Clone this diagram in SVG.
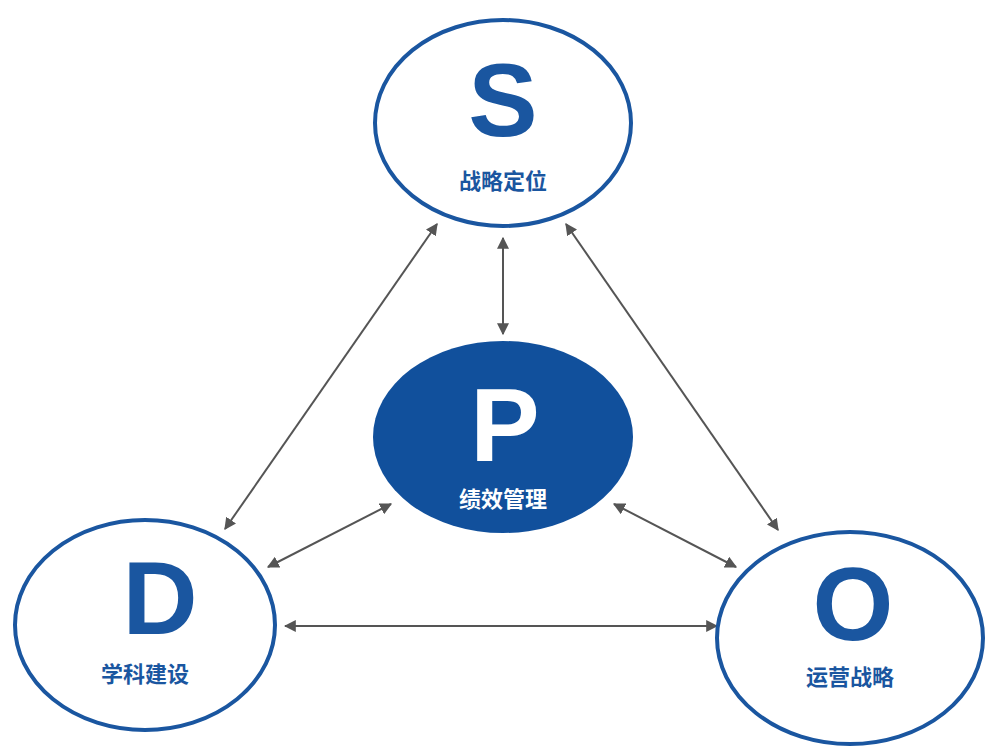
<svg xmlns="http://www.w3.org/2000/svg" width="999" height="753" viewBox="0 0 999 753">
<defs>
<marker id="ah" viewBox="0 0 10 10" refX="9" refY="5" markerWidth="6" markerHeight="6" orient="auto-start-reverse"><path d="M0,0 L10,5 L0,10 z" fill="#555"/></marker>
<style>
.ring{fill:#fff;stroke:#1a56a0;stroke-width:4}
.big{font-family:"Liberation Sans",sans-serif;font-weight:bold;font-size:104px;fill:#1a56a0;text-anchor:middle}
.lab{font-family:"Noto Sans CJK SC",sans-serif;font-weight:bold;font-size:22px;fill:#1a56a0;text-anchor:middle}
.w{fill:#fff}
.c{stroke:#555;stroke-width:2;fill:none;marker-start:url(#ah);marker-end:url(#ah)}
</style>
</defs>
<rect width="999" height="753" fill="#fff"/>
<g id="connectors">
<line class="c" x1="503" y1="238" x2="503" y2="334"/>
<line class="c" x1="437" y1="224" x2="225" y2="529"/>
<line class="c" x1="566" y1="224" x2="778" y2="530"/>
<line class="c" x1="391" y1="504" x2="268" y2="567"/>
<line class="c" x1="614" y1="504" x2="736" y2="567"/>
<line class="c" x1="285" y1="626" x2="717" y2="626"/>
</g>
<g id="S"><ellipse class="ring" cx="503" cy="123" rx="128" ry="103"/><text class="big" x="503" y="136">S</text><text class="lab" x="503" y="189">战略定位</text></g>
<g id="P"><ellipse cx="503" cy="437" rx="130" ry="96" fill="#11509c"/><text class="big w" x="505" y="461">P</text><text class="lab w" x="503" y="507">绩效管理</text></g>
<g id="D"><ellipse class="ring" cx="145" cy="625" rx="130" ry="105"/><text class="big" x="160" y="634">D</text><text class="lab" x="145" y="682">学科建设</text></g>
<g id="O"><ellipse class="ring" cx="850" cy="638" rx="133" ry="106"/><text class="big" x="853" y="640">O</text><text class="lab" x="850" y="685">运营战略</text></g>
</svg>
